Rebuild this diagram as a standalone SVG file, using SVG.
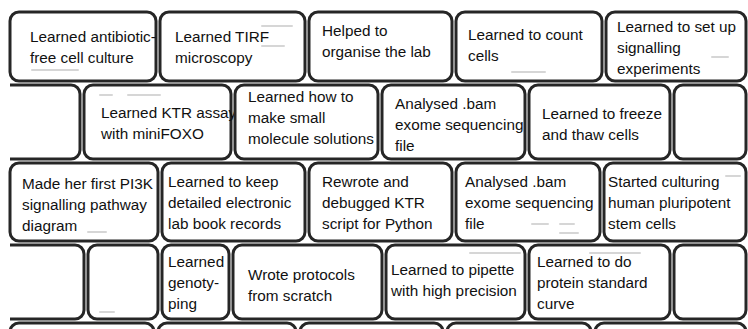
<svg xmlns="http://www.w3.org/2000/svg" width="748" height="329" viewBox="0 0 748 329">
<style>
.b{fill:#fff;stroke:#262626;stroke-width:3}
.t{font-family:"Liberation Sans",Arial,sans-serif;font-size:15.3px;fill:#111}
.s{stroke:#c4c4c4;stroke-width:2;stroke-linecap:round;fill:none;opacity:.7}
</style>
<rect width="748" height="329" fill="#fff"/>
<!-- Row 1 -->
<g id="r1b1"><rect class="b" x="10" y="12" width="146" height="69" rx="9"/><path class="s" d="M32 70H78"/><text class="t" x="30" y="42">Learned antibiotic-</text><text class="t" x="30" y="63">free cell culture</text></g>
<g id="r1b2"><rect class="b" x="160" y="12" width="145" height="69" rx="9"/><path class="s" d="M262 26H292M262 46H284"/><text class="t" x="175" y="42">Learned TIRF</text><text class="t" x="175" y="63">microscopy</text></g>
<g id="r1b3"><rect class="b" x="309" y="12" width="143" height="69" rx="9"/><text class="t" x="322" y="36">Helped to</text><text class="t" x="322" y="57">organise the lab</text></g>
<g id="r1b4"><rect class="b" x="456" y="12" width="146" height="69" rx="9"/><path class="s" d="M512 72H545"/><text class="t" x="468" y="40">Learned to count</text><text class="t" x="468" y="61">cells</text></g>
<g id="r1b5"><rect class="b" x="606" y="12" width="140" height="69" rx="9"/><path class="s" d="M712 57H728"/><text class="t" x="617" y="32">Learned to set up</text><text class="t" x="617" y="53">signalling</text><text class="t" x="617" y="74">experiments</text></g>
<!-- Row 2 -->
<g id="r2b0"><path class="b" d="M10 85H71A9 9 0 0 1 80 94V150A9 9 0 0 1 71 159H10"/></g>
<g id="r2b1"><rect class="b" x="84" y="85" width="147" height="74" rx="9"/><path class="s" d="M100 95H112M128 95H160"/><text class="t" x="101" y="118">Learned KTR assay</text><text class="t" x="101" y="139">with miniFOXO</text></g>
<g id="r2b2"><rect class="b" x="235" y="85" width="143" height="74" rx="9"/><text class="t" x="248" y="102">Learned how to</text><text class="t" x="248" y="123">make small</text><text class="t" x="248" y="144">molecule solutions</text></g>
<g id="r2b3"><rect class="b" x="382" y="85" width="143" height="74" rx="9"/><text class="t" x="395" y="109">Analysed .bam</text><text class="t" x="395" y="130">exome sequencing</text><text class="t" x="395" y="151">file</text></g>
<g id="r2b4"><rect class="b" x="529" y="85" width="141" height="74" rx="9"/><text class="t" x="542" y="119">Learned to freeze</text><text class="t" x="542" y="140">and thaw cells</text></g>
<g id="r2b5"><rect class="b" x="674" y="85" width="72" height="74" rx="9"/></g>
<!-- Row 3 -->
<g id="r3b1"><rect class="b" x="10" y="163" width="148" height="78" rx="9"/><path class="s" d="M88 232H106"/><text class="t" x="22" y="189">Made her first PI3K</text><text class="t" x="22" y="210">signalling pathway</text><text class="t" x="22" y="231">diagram</text></g>
<g id="r3b2"><rect class="b" x="162" y="163" width="143" height="78" rx="9"/><text class="t" x="168" y="187">Learned to keep</text><text class="t" x="168" y="208">detailed electronic</text><text class="t" x="168" y="229">lab book records</text></g>
<g id="r3b3"><rect class="b" x="309" y="163" width="143" height="78" rx="9"/><text class="t" x="322" y="187">Rewrote and</text><text class="t" x="322" y="208">debugged KTR</text><text class="t" x="322" y="229">script for Python</text></g>
<g id="r3b4"><rect class="b" x="456" y="163" width="144" height="78" rx="9"/><path class="s" d="M532 224H548M560 224H574M560 233H578"/><text class="t" x="465" y="187">Analysed .bam</text><text class="t" x="465" y="208">exome sequencing</text><text class="t" x="465" y="229">file</text></g>
<g id="r3b5"><rect class="b" x="604" y="163" width="142" height="78" rx="9"/><path class="s" d="M726 176H740"/><text class="t" x="608" y="187">Started culturing</text><text class="t" x="608" y="208">human pluripotent</text><text class="t" x="608" y="229">stem cells</text></g>
<!-- Row 4 -->
<g id="r4b0"><path class="b" d="M10 245H75A9 9 0 0 1 84 254V310A9 9 0 0 1 75 319H10"/></g>
<g id="r4b1"><rect class="b" x="88" y="245" width="70" height="74" rx="9"/><path class="s" d="M100 312H114"/></g>
<g id="r4b2"><rect class="b" x="162" y="245" width="67" height="74" rx="9"/><text class="t" x="168" y="267">Learned</text><text class="t" x="168" y="288">genoty-</text><text class="t" x="168" y="309">ping</text></g>
<g id="r4b3"><rect class="b" x="233" y="245" width="149" height="74" rx="9"/><text class="t" x="248" y="280">Wrote protocols</text><text class="t" x="248" y="301">from scratch</text></g>
<g id="r4b4"><rect class="b" x="386" y="245" width="139" height="74" rx="9"/><path class="s" d="M470 253H520"/><text class="t" x="391" y="275">Learned to pipette</text><text class="t" x="391" y="296">with high precision</text></g>
<g id="r4b5"><rect class="b" x="529" y="245" width="141" height="74" rx="9"/><path class="s" d="M590 253H640"/><text class="t" x="537" y="267">Learned to do</text><text class="t" x="537" y="288">protein standard</text><text class="t" x="537" y="309">curve</text></g>
<g id="r4b6"><rect class="b" x="674" y="245" width="72" height="74" rx="9"/></g>
<!-- Row 5 (partial) -->
<g id="r5">
<rect class="b" x="10" y="323" width="144" height="30" rx="9"/>
<rect class="b" x="158" y="323" width="138" height="30" rx="9"/>
<rect class="b" x="300" y="323" width="143" height="30" rx="9"/>
<rect class="b" x="447" y="323" width="144" height="30" rx="9"/>
<rect class="b" x="595" y="323" width="151" height="30" rx="9"/>
</g>
</svg>
